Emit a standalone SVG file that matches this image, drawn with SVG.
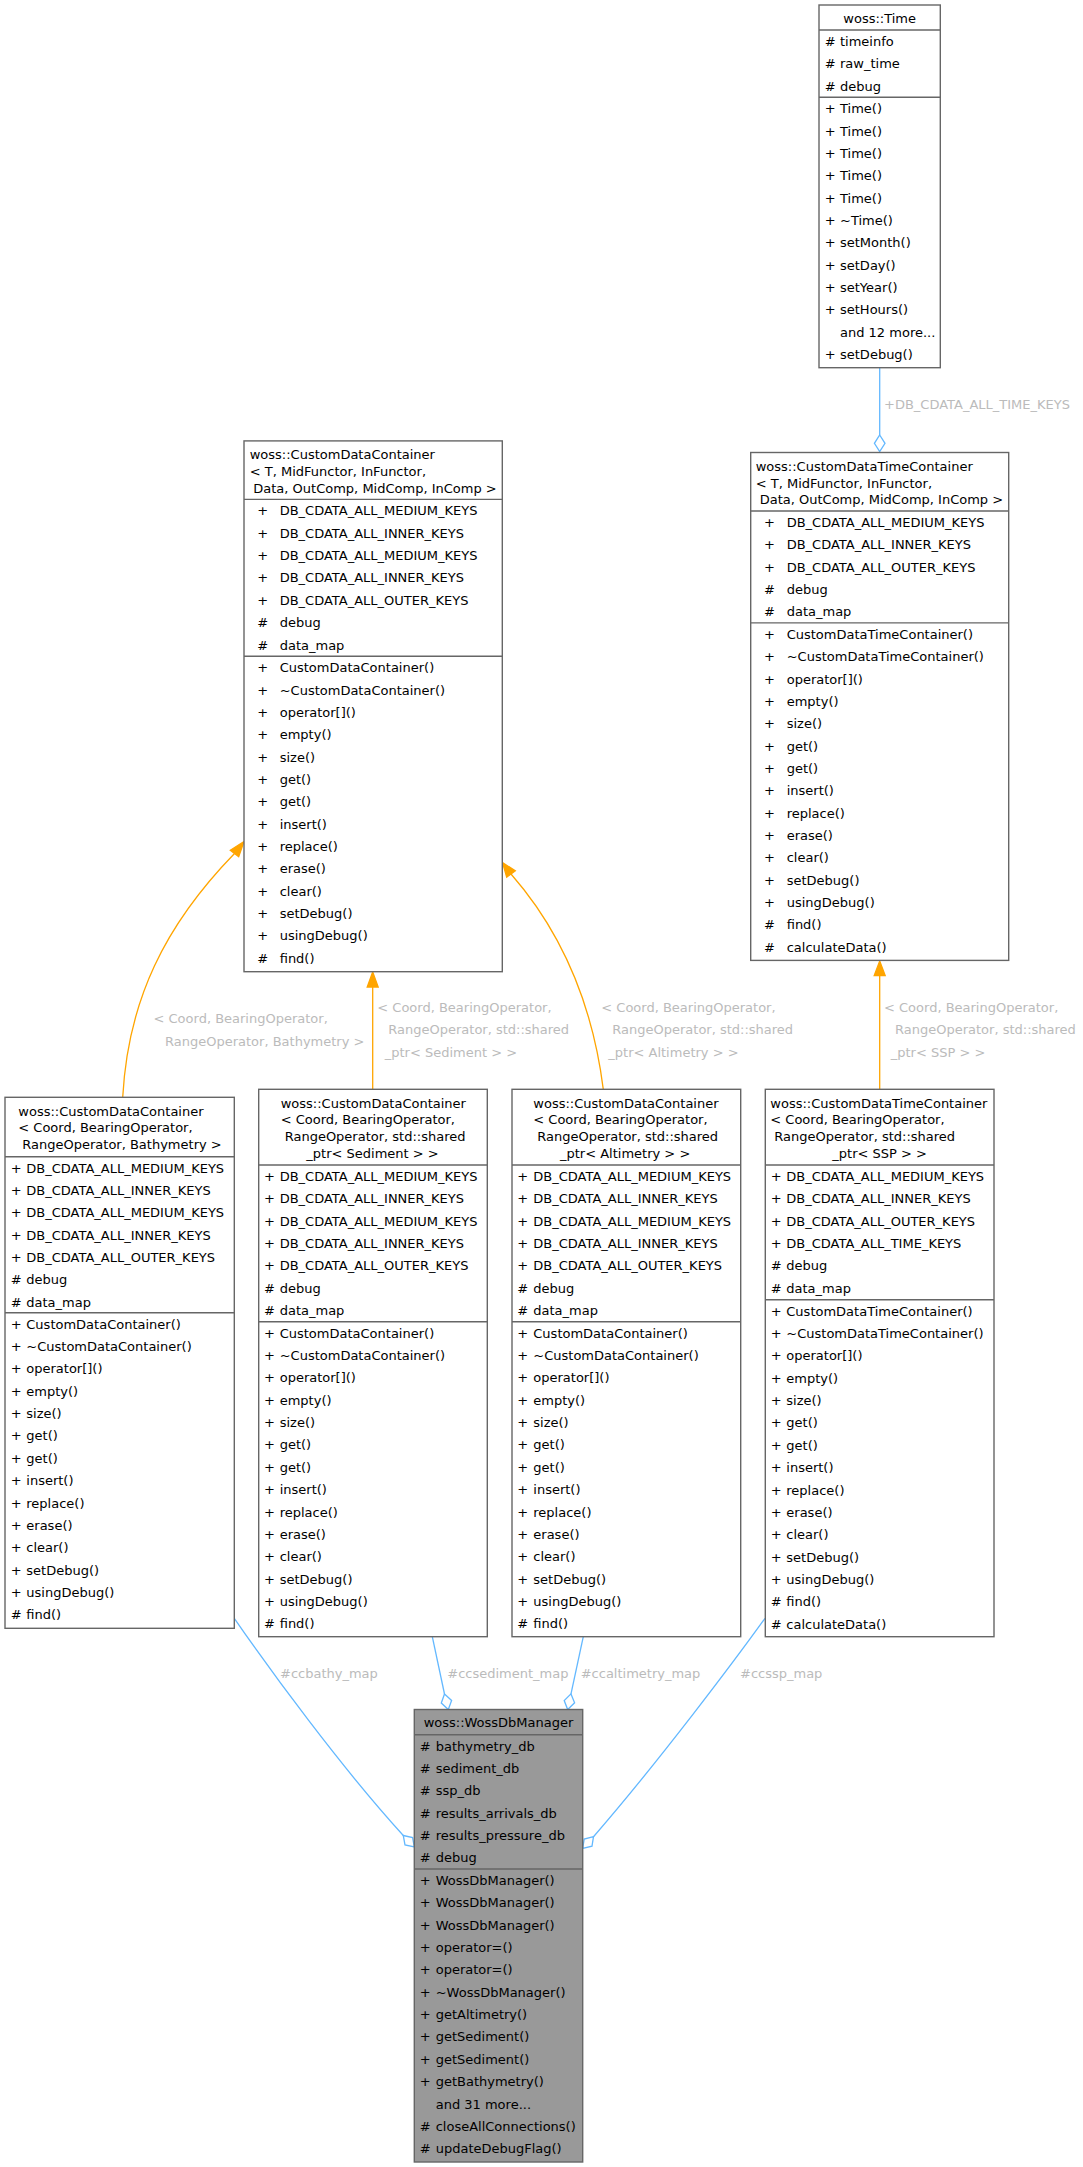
<svg xmlns="http://www.w3.org/2000/svg" width="1083" height="2167" viewBox="0 0 1083 2167">
<style>
.bg{fill:#fff}
.b{fill:#fff;stroke:#666;stroke-width:1.4}
.m{fill:#999;stroke:#666;stroke-width:1.4}
.d{stroke:#666;stroke-width:1.4}
text{font-family:"DejaVu Sans",sans-serif;font-size:13px;fill:#000}
.c{text-anchor:middle}
.l{fill:#bbb}
.e{fill:none;stroke:#63b8ff;stroke-width:1.3}
.o{fill:none;stroke:#ffa500;stroke-width:1.3}
.ah{fill:#ffa500;stroke:#ffa500;stroke-width:1.3}
</style>
<rect class="bg" width="1083" height="2167"/>

<g id="edges">
<path class="e" d="M879.7,367.7 L879.7,435"/>
<polygon class="e" points="879.7,435 885,443.3 879.7,451.6 874.4,443.3"/>
<text class="l" x="884" y="409">+DB_CDATA_ALL_TIME_KEYS</text>

<path class="o" d="M122.7,1097.3 C128,1000 165,925 234.5,853.5"/>
<polygon class="ah" points="244,841.5 238.7,856.8 230.3,850.2"/>
<text class="l" x="153.5" y="1023.3">&lt; Coord, BearingOperator,</text>
<text class="l" x="165" y="1045.7">RangeOperator, Bathymetry &gt;</text>

<path class="o" d="M372.7,1089.3 L372.7,987"/>
<polygon class="ah" points="372.7,972 378.2,987 367.2,987"/>
<text class="l" x="377.3" y="1012">&lt; Coord, BearingOperator,</text>
<text class="l" x="388.3" y="1034.3">RangeOperator, std::shared</text>
<text class="l" x="384.7" y="1056.7">_ptr&lt; Sediment &gt; &gt;</text>

<path class="o" d="M603.3,1089.3 C592,1000 560,930 511,874"/>
<polygon class="ah" points="502.5,862.5 515.3,870.9 506.7,877.2"/>
<text class="l" x="601.3" y="1012">&lt; Coord, BearingOperator,</text>
<text class="l" x="612.3" y="1034.3">RangeOperator, std::shared</text>
<text class="l" x="608.3" y="1056.7">_ptr&lt; Altimetry &gt; &gt;</text>

<path class="o" d="M879.7,1089.3 L879.7,975.5"/>
<polygon class="ah" points="879.7,961 885.2,975.5 874.2,975.5"/>
<text class="l" x="884" y="1012">&lt; Coord, BearingOperator,</text>
<text class="l" x="895" y="1034.3">RangeOperator, std::shared</text>
<text class="l" x="890.7" y="1056.7">_ptr&lt; SSP &gt; &gt;</text>

<path class="e" d="M234.3,1618.3 C270,1670 340,1766 403.3,1835.5"/>
<polygon class="e" points="403.3,1835.5 412.6,1837.6 414.3,1847 405,1844.9"/>
<text class="l" x="280" y="1677.7">#ccbathy_map</text>

<path class="e" d="M432.3,1636.7 L444.5,1694"/>
<polygon class="e" points="444.5,1694 451.6,1700.5 448.3,1709.5 441.3,1703"/>
<text class="l" x="447.3" y="1677.7">#ccsediment_map</text>

<path class="e" d="M583.3,1636.7 L571,1693.9"/>
<polygon class="e" points="571,1693.9 574.6,1702.8 567.7,1709.5 564.2,1700.6"/>
<text class="l" x="580.7" y="1677.7">#ccaltimetry_map</text>

<path class="e" d="M765,1618.3 C735,1660 660,1760 593.5,1836.7"/>
<polygon class="e" points="593.5,1836.7 592,1846.2 582.7,1848.5 584.2,1839"/>
<text class="l" x="740" y="1677.7">#ccssp_map</text>
</g>

<g id="time">
<rect class="b" x="819" y="5" width="121.3" height="362.7"/>
<line class="d" x1="819" y1="30" x2="940.3" y2="30"/>
<line class="d" x1="819" y1="97.3" x2="940.3" y2="97.3"/>
<text class="c" x="879.7" y="22.5">woss::Time</text>
<text y="46"><tspan x="824.7">#</tspan><tspan x="840">timeinfo</tspan></text>
<text y="68.35"><tspan x="824.7">#</tspan><tspan x="840">raw_time</tspan></text>
<text y="90.7"><tspan x="824.7">#</tspan><tspan x="840">debug</tspan></text>
<text y="113.3"><tspan x="824.7">+</tspan><tspan x="840">Time()</tspan></text>
<text y="135.65"><tspan x="824.7">+</tspan><tspan x="840">Time()</tspan></text>
<text y="158"><tspan x="824.7">+</tspan><tspan x="840">Time()</tspan></text>
<text y="180.35"><tspan x="824.7">+</tspan><tspan x="840">Time()</tspan></text>
<text y="202.7"><tspan x="824.7">+</tspan><tspan x="840">Time()</tspan></text>
<text y="225.05"><tspan x="824.7">+</tspan><tspan x="840">~Time()</tspan></text>
<text y="247.4"><tspan x="824.7">+</tspan><tspan x="840">setMonth()</tspan></text>
<text y="269.75"><tspan x="824.7">+</tspan><tspan x="840">setDay()</tspan></text>
<text y="292.1"><tspan x="824.7">+</tspan><tspan x="840">setYear()</tspan></text>
<text y="314.45"><tspan x="824.7">+</tspan><tspan x="840">setHours()</tspan></text>
<text x="840" y="336.8">and 12 more...</text>
<text y="359.15"><tspan x="824.7">+</tspan><tspan x="840">setDebug()</tspan></text>
</g>

<g id="cdc">
<rect class="b" x="244" y="440.9" width="258.3" height="530.8"/>
<line class="d" x1="244" y1="499.4" x2="502.3" y2="499.4"/>
<line class="d" x1="244" y1="656.2" x2="502.3" y2="656.2"/>
<text x="249.7" y="459.2">woss::CustomDataContainer</text>
<text x="249.7" y="475.9">&lt; T, MidFunctor, InFunctor,</text>
<text x="253.3" y="492.6">Data, OutComp, MidComp, InComp &gt;</text>
<text y="515.4"><tspan x="257.3">+</tspan><tspan x="279.7">DB_CDATA_ALL_MEDIUM_KEYS</tspan></text>
<text y="537.75"><tspan x="257.3">+</tspan><tspan x="279.7">DB_CDATA_ALL_INNER_KEYS</tspan></text>
<text y="560.1"><tspan x="257.3">+</tspan><tspan x="279.7">DB_CDATA_ALL_MEDIUM_KEYS</tspan></text>
<text y="582.45"><tspan x="257.3">+</tspan><tspan x="279.7">DB_CDATA_ALL_INNER_KEYS</tspan></text>
<text y="604.8"><tspan x="257.3">+</tspan><tspan x="279.7">DB_CDATA_ALL_OUTER_KEYS</tspan></text>
<text y="627.15"><tspan x="257.3">#</tspan><tspan x="279.7">debug</tspan></text>
<text y="649.5"><tspan x="257.3">#</tspan><tspan x="279.7">data_map</tspan></text>
<text y="672.2"><tspan x="257.3">+</tspan><tspan x="279.7">CustomDataContainer()</tspan></text>
<text y="694.55"><tspan x="257.3">+</tspan><tspan x="279.7">~CustomDataContainer()</tspan></text>
<text y="716.9"><tspan x="257.3">+</tspan><tspan x="279.7">operator[]()</tspan></text>
<text y="739.25"><tspan x="257.3">+</tspan><tspan x="279.7">empty()</tspan></text>
<text y="761.6"><tspan x="257.3">+</tspan><tspan x="279.7">size()</tspan></text>
<text y="783.95"><tspan x="257.3">+</tspan><tspan x="279.7">get()</tspan></text>
<text y="806.3"><tspan x="257.3">+</tspan><tspan x="279.7">get()</tspan></text>
<text y="828.65"><tspan x="257.3">+</tspan><tspan x="279.7">insert()</tspan></text>
<text y="851"><tspan x="257.3">+</tspan><tspan x="279.7">replace()</tspan></text>
<text y="873.35"><tspan x="257.3">+</tspan><tspan x="279.7">erase()</tspan></text>
<text y="895.7"><tspan x="257.3">+</tspan><tspan x="279.7">clear()</tspan></text>
<text y="918.05"><tspan x="257.3">+</tspan><tspan x="279.7">setDebug()</tspan></text>
<text y="940.4"><tspan x="257.3">+</tspan><tspan x="279.7">usingDebug()</tspan></text>
<text y="962.75"><tspan x="257.3">#</tspan><tspan x="279.7">find()</tspan></text>
</g>

<g id="cdtc">
<rect class="b" x="750.7" y="452.5" width="258" height="507.9"/>
<line class="d" x1="750.7" y1="511" x2="1008.7" y2="511"/>
<line class="d" x1="750.7" y1="622.9" x2="1008.7" y2="622.9"/>
<text x="755.7" y="470.8">woss::CustomDataTimeContainer</text>
<text x="755.7" y="487.5">&lt; T, MidFunctor, InFunctor,</text>
<text x="759.7" y="504.2">Data, OutComp, MidComp, InComp &gt;</text>
<text y="527"><tspan x="764">+</tspan><tspan x="786.7">DB_CDATA_ALL_MEDIUM_KEYS</tspan></text>
<text y="549.35"><tspan x="764">+</tspan><tspan x="786.7">DB_CDATA_ALL_INNER_KEYS</tspan></text>
<text y="571.7"><tspan x="764">+</tspan><tspan x="786.7">DB_CDATA_ALL_OUTER_KEYS</tspan></text>
<text y="594.05"><tspan x="764">#</tspan><tspan x="786.7">debug</tspan></text>
<text y="616.4"><tspan x="764">#</tspan><tspan x="786.7">data_map</tspan></text>
<text y="638.9"><tspan x="764">+</tspan><tspan x="786.7">CustomDataTimeContainer()</tspan></text>
<text y="661.25"><tspan x="764">+</tspan><tspan x="786.7">~CustomDataTimeContainer()</tspan></text>
<text y="683.6"><tspan x="764">+</tspan><tspan x="786.7">operator[]()</tspan></text>
<text y="705.95"><tspan x="764">+</tspan><tspan x="786.7">empty()</tspan></text>
<text y="728.3"><tspan x="764">+</tspan><tspan x="786.7">size()</tspan></text>
<text y="750.65"><tspan x="764">+</tspan><tspan x="786.7">get()</tspan></text>
<text y="773"><tspan x="764">+</tspan><tspan x="786.7">get()</tspan></text>
<text y="795.35"><tspan x="764">+</tspan><tspan x="786.7">insert()</tspan></text>
<text y="817.7"><tspan x="764">+</tspan><tspan x="786.7">replace()</tspan></text>
<text y="840.05"><tspan x="764">+</tspan><tspan x="786.7">erase()</tspan></text>
<text y="862.4"><tspan x="764">+</tspan><tspan x="786.7">clear()</tspan></text>
<text y="884.75"><tspan x="764">+</tspan><tspan x="786.7">setDebug()</tspan></text>
<text y="907.1"><tspan x="764">+</tspan><tspan x="786.7">usingDebug()</tspan></text>
<text y="929.45"><tspan x="764">#</tspan><tspan x="786.7">find()</tspan></text>
<text y="951.8"><tspan x="764">#</tspan><tspan x="786.7">calculateData()</tspan></text>
</g>

<g id="cdc_bathymetry">
<rect class="b" x="5" y="1097.3" width="229.3" height="531"/>
<line class="d" x1="5" y1="1156.7" x2="234.3" y2="1156.7"/>
<line class="d" x1="5" y1="1312.7" x2="234.3" y2="1312.7"/>
<text x="18.3" y="1115.6">woss::CustomDataContainer</text>
<text x="18.3" y="1132.3">&lt; Coord, BearingOperator,</text>
<text x="22.3" y="1149">RangeOperator, Bathymetry &gt;</text>
<text y="1172.7"><tspan x="10.7">+</tspan><tspan x="26.3">DB_CDATA_ALL_MEDIUM_KEYS</tspan></text>
<text y="1195.05"><tspan x="10.7">+</tspan><tspan x="26.3">DB_CDATA_ALL_INNER_KEYS</tspan></text>
<text y="1217.4"><tspan x="10.7">+</tspan><tspan x="26.3">DB_CDATA_ALL_MEDIUM_KEYS</tspan></text>
<text y="1239.75"><tspan x="10.7">+</tspan><tspan x="26.3">DB_CDATA_ALL_INNER_KEYS</tspan></text>
<text y="1262.1"><tspan x="10.7">+</tspan><tspan x="26.3">DB_CDATA_ALL_OUTER_KEYS</tspan></text>
<text y="1284.45"><tspan x="10.7">#</tspan><tspan x="26.3">debug</tspan></text>
<text y="1306.8"><tspan x="10.7">#</tspan><tspan x="26.3">data_map</tspan></text>
<text y="1328.7"><tspan x="10.7">+</tspan><tspan x="26.3">CustomDataContainer()</tspan></text>
<text y="1351.05"><tspan x="10.7">+</tspan><tspan x="26.3">~CustomDataContainer()</tspan></text>
<text y="1373.4"><tspan x="10.7">+</tspan><tspan x="26.3">operator[]()</tspan></text>
<text y="1395.75"><tspan x="10.7">+</tspan><tspan x="26.3">empty()</tspan></text>
<text y="1418.1"><tspan x="10.7">+</tspan><tspan x="26.3">size()</tspan></text>
<text y="1440.45"><tspan x="10.7">+</tspan><tspan x="26.3">get()</tspan></text>
<text y="1462.8"><tspan x="10.7">+</tspan><tspan x="26.3">get()</tspan></text>
<text y="1485.15"><tspan x="10.7">+</tspan><tspan x="26.3">insert()</tspan></text>
<text y="1507.5"><tspan x="10.7">+</tspan><tspan x="26.3">replace()</tspan></text>
<text y="1529.85"><tspan x="10.7">+</tspan><tspan x="26.3">erase()</tspan></text>
<text y="1552.2"><tspan x="10.7">+</tspan><tspan x="26.3">clear()</tspan></text>
<text y="1574.55"><tspan x="10.7">+</tspan><tspan x="26.3">setDebug()</tspan></text>
<text y="1596.9"><tspan x="10.7">+</tspan><tspan x="26.3">usingDebug()</tspan></text>
<text y="1619.25"><tspan x="10.7">#</tspan><tspan x="26.3">find()</tspan></text>
</g>

<g id="cdc_sediment">
<rect class="b" x="258.7" y="1089.3" width="228.6" height="547.4"/>
<line class="d" x1="258.7" y1="1165" x2="487.3" y2="1165"/>
<line class="d" x1="258.7" y1="1321.7" x2="487.3" y2="1321.7"/>
<text x="280.7" y="1107.6">woss::CustomDataContainer</text>
<text x="280.7" y="1124.3">&lt; Coord, BearingOperator,</text>
<text x="284.7" y="1141">RangeOperator, std::shared</text>
<text x="306.3" y="1157.7">_ptr&lt; Sediment &gt; &gt;</text>
<text y="1181"><tspan x="264">+</tspan><tspan x="279.7">DB_CDATA_ALL_MEDIUM_KEYS</tspan></text>
<text y="1203.35"><tspan x="264">+</tspan><tspan x="279.7">DB_CDATA_ALL_INNER_KEYS</tspan></text>
<text y="1225.7"><tspan x="264">+</tspan><tspan x="279.7">DB_CDATA_ALL_MEDIUM_KEYS</tspan></text>
<text y="1248.05"><tspan x="264">+</tspan><tspan x="279.7">DB_CDATA_ALL_INNER_KEYS</tspan></text>
<text y="1270.4"><tspan x="264">+</tspan><tspan x="279.7">DB_CDATA_ALL_OUTER_KEYS</tspan></text>
<text y="1292.75"><tspan x="264">#</tspan><tspan x="279.7">debug</tspan></text>
<text y="1315.1"><tspan x="264">#</tspan><tspan x="279.7">data_map</tspan></text>
<text y="1337.7"><tspan x="264">+</tspan><tspan x="279.7">CustomDataContainer()</tspan></text>
<text y="1360.05"><tspan x="264">+</tspan><tspan x="279.7">~CustomDataContainer()</tspan></text>
<text y="1382.4"><tspan x="264">+</tspan><tspan x="279.7">operator[]()</tspan></text>
<text y="1404.75"><tspan x="264">+</tspan><tspan x="279.7">empty()</tspan></text>
<text y="1427.1"><tspan x="264">+</tspan><tspan x="279.7">size()</tspan></text>
<text y="1449.45"><tspan x="264">+</tspan><tspan x="279.7">get()</tspan></text>
<text y="1471.8"><tspan x="264">+</tspan><tspan x="279.7">get()</tspan></text>
<text y="1494.15"><tspan x="264">+</tspan><tspan x="279.7">insert()</tspan></text>
<text y="1516.5"><tspan x="264">+</tspan><tspan x="279.7">replace()</tspan></text>
<text y="1538.85"><tspan x="264">+</tspan><tspan x="279.7">erase()</tspan></text>
<text y="1561.2"><tspan x="264">+</tspan><tspan x="279.7">clear()</tspan></text>
<text y="1583.55"><tspan x="264">+</tspan><tspan x="279.7">setDebug()</tspan></text>
<text y="1605.9"><tspan x="264">+</tspan><tspan x="279.7">usingDebug()</tspan></text>
<text y="1628.25"><tspan x="264">#</tspan><tspan x="279.7">find()</tspan></text>
</g>

<g id="cdc_altimetry">
<rect class="b" x="512" y="1089.3" width="228.7" height="547.4"/>
<line class="d" x1="512" y1="1165" x2="740.7" y2="1165"/>
<line class="d" x1="512" y1="1321.7" x2="740.7" y2="1321.7"/>
<text x="533.3" y="1107.6">woss::CustomDataContainer</text>
<text x="533.3" y="1124.3">&lt; Coord, BearingOperator,</text>
<text x="537.3" y="1141">RangeOperator, std::shared</text>
<text x="560" y="1157.7">_ptr&lt; Altimetry &gt; &gt;</text>
<text y="1181"><tspan x="517.3">+</tspan><tspan x="533.3">DB_CDATA_ALL_MEDIUM_KEYS</tspan></text>
<text y="1203.35"><tspan x="517.3">+</tspan><tspan x="533.3">DB_CDATA_ALL_INNER_KEYS</tspan></text>
<text y="1225.7"><tspan x="517.3">+</tspan><tspan x="533.3">DB_CDATA_ALL_MEDIUM_KEYS</tspan></text>
<text y="1248.05"><tspan x="517.3">+</tspan><tspan x="533.3">DB_CDATA_ALL_INNER_KEYS</tspan></text>
<text y="1270.4"><tspan x="517.3">+</tspan><tspan x="533.3">DB_CDATA_ALL_OUTER_KEYS</tspan></text>
<text y="1292.75"><tspan x="517.3">#</tspan><tspan x="533.3">debug</tspan></text>
<text y="1315.1"><tspan x="517.3">#</tspan><tspan x="533.3">data_map</tspan></text>
<text y="1337.7"><tspan x="517.3">+</tspan><tspan x="533.3">CustomDataContainer()</tspan></text>
<text y="1360.05"><tspan x="517.3">+</tspan><tspan x="533.3">~CustomDataContainer()</tspan></text>
<text y="1382.4"><tspan x="517.3">+</tspan><tspan x="533.3">operator[]()</tspan></text>
<text y="1404.75"><tspan x="517.3">+</tspan><tspan x="533.3">empty()</tspan></text>
<text y="1427.1"><tspan x="517.3">+</tspan><tspan x="533.3">size()</tspan></text>
<text y="1449.45"><tspan x="517.3">+</tspan><tspan x="533.3">get()</tspan></text>
<text y="1471.8"><tspan x="517.3">+</tspan><tspan x="533.3">get()</tspan></text>
<text y="1494.15"><tspan x="517.3">+</tspan><tspan x="533.3">insert()</tspan></text>
<text y="1516.5"><tspan x="517.3">+</tspan><tspan x="533.3">replace()</tspan></text>
<text y="1538.85"><tspan x="517.3">+</tspan><tspan x="533.3">erase()</tspan></text>
<text y="1561.2"><tspan x="517.3">+</tspan><tspan x="533.3">clear()</tspan></text>
<text y="1583.55"><tspan x="517.3">+</tspan><tspan x="533.3">setDebug()</tspan></text>
<text y="1605.9"><tspan x="517.3">+</tspan><tspan x="533.3">usingDebug()</tspan></text>
<text y="1628.25"><tspan x="517.3">#</tspan><tspan x="533.3">find()</tspan></text>
</g>

<g id="cdtc_ssp">
<rect class="b" x="765.3" y="1089.3" width="228.7" height="547.4"/>
<line class="d" x1="765.3" y1="1165" x2="994" y2="1165"/>
<line class="d" x1="765.3" y1="1299.7" x2="994" y2="1299.7"/>
<text x="770.3" y="1107.6">woss::CustomDataTimeContainer</text>
<text x="770.3" y="1124.3">&lt; Coord, BearingOperator,</text>
<text x="774.3" y="1141">RangeOperator, std::shared</text>
<text x="832.3" y="1157.7">_ptr&lt; SSP &gt; &gt;</text>
<text y="1181"><tspan x="770.7">+</tspan><tspan x="786.3">DB_CDATA_ALL_MEDIUM_KEYS</tspan></text>
<text y="1203.35"><tspan x="770.7">+</tspan><tspan x="786.3">DB_CDATA_ALL_INNER_KEYS</tspan></text>
<text y="1225.7"><tspan x="770.7">+</tspan><tspan x="786.3">DB_CDATA_ALL_OUTER_KEYS</tspan></text>
<text y="1248.05"><tspan x="770.7">+</tspan><tspan x="786.3">DB_CDATA_ALL_TIME_KEYS</tspan></text>
<text y="1270.4"><tspan x="770.7">#</tspan><tspan x="786.3">debug</tspan></text>
<text y="1292.75"><tspan x="770.7">#</tspan><tspan x="786.3">data_map</tspan></text>
<text y="1315.7"><tspan x="770.7">+</tspan><tspan x="786.3">CustomDataTimeContainer()</tspan></text>
<text y="1338.05"><tspan x="770.7">+</tspan><tspan x="786.3">~CustomDataTimeContainer()</tspan></text>
<text y="1360.4"><tspan x="770.7">+</tspan><tspan x="786.3">operator[]()</tspan></text>
<text y="1382.75"><tspan x="770.7">+</tspan><tspan x="786.3">empty()</tspan></text>
<text y="1405.1"><tspan x="770.7">+</tspan><tspan x="786.3">size()</tspan></text>
<text y="1427.45"><tspan x="770.7">+</tspan><tspan x="786.3">get()</tspan></text>
<text y="1449.8"><tspan x="770.7">+</tspan><tspan x="786.3">get()</tspan></text>
<text y="1472.15"><tspan x="770.7">+</tspan><tspan x="786.3">insert()</tspan></text>
<text y="1494.5"><tspan x="770.7">+</tspan><tspan x="786.3">replace()</tspan></text>
<text y="1516.85"><tspan x="770.7">+</tspan><tspan x="786.3">erase()</tspan></text>
<text y="1539.2"><tspan x="770.7">+</tspan><tspan x="786.3">clear()</tspan></text>
<text y="1561.55"><tspan x="770.7">+</tspan><tspan x="786.3">setDebug()</tspan></text>
<text y="1583.9"><tspan x="770.7">+</tspan><tspan x="786.3">usingDebug()</tspan></text>
<text y="1606.25"><tspan x="770.7">#</tspan><tspan x="786.3">find()</tspan></text>
<text y="1628.6"><tspan x="770.7">#</tspan><tspan x="786.3">calculateData()</tspan></text>
</g>

<g id="wossdbmanager">
<rect class="m" x="414.3" y="1709.5" width="168.4" height="452.5"/>
<line class="d" x1="414.3" y1="1734.7" x2="582.7" y2="1734.7"/>
<line class="d" x1="414.3" y1="1869" x2="582.7" y2="1869"/>
<text class="c" x="498.5" y="1727.3">woss::WossDbManager</text>
<text y="1750.7"><tspan x="419.7">#</tspan><tspan x="435.7">bathymetry_db</tspan></text>
<text y="1773.05"><tspan x="419.7">#</tspan><tspan x="435.7">sediment_db</tspan></text>
<text y="1795.4"><tspan x="419.7">#</tspan><tspan x="435.7">ssp_db</tspan></text>
<text y="1817.75"><tspan x="419.7">#</tspan><tspan x="435.7">results_arrivals_db</tspan></text>
<text y="1840.1"><tspan x="419.7">#</tspan><tspan x="435.7">results_pressure_db</tspan></text>
<text y="1862.45"><tspan x="419.7">#</tspan><tspan x="435.7">debug</tspan></text>
<text y="1885"><tspan x="419.7">+</tspan><tspan x="435.7">WossDbManager()</tspan></text>
<text y="1907.35"><tspan x="419.7">+</tspan><tspan x="435.7">WossDbManager()</tspan></text>
<text y="1929.7"><tspan x="419.7">+</tspan><tspan x="435.7">WossDbManager()</tspan></text>
<text y="1952.05"><tspan x="419.7">+</tspan><tspan x="435.7">operator=()</tspan></text>
<text y="1974.4"><tspan x="419.7">+</tspan><tspan x="435.7">operator=()</tspan></text>
<text y="1996.75"><tspan x="419.7">+</tspan><tspan x="435.7">~WossDbManager()</tspan></text>
<text y="2019.1"><tspan x="419.7">+</tspan><tspan x="435.7">getAltimetry()</tspan></text>
<text y="2041.45"><tspan x="419.7">+</tspan><tspan x="435.7">getSediment()</tspan></text>
<text y="2063.8"><tspan x="419.7">+</tspan><tspan x="435.7">getSediment()</tspan></text>
<text y="2086.15"><tspan x="419.7">+</tspan><tspan x="435.7">getBathymetry()</tspan></text>
<text x="435.7" y="2108.5">and 31 more...</text>
<text y="2130.85"><tspan x="419.7">#</tspan><tspan x="435.7">closeAllConnections()</tspan></text>
<text y="2153.2"><tspan x="419.7">#</tspan><tspan x="435.7">updateDebugFlag()</tspan></text>
</g>
</svg>
